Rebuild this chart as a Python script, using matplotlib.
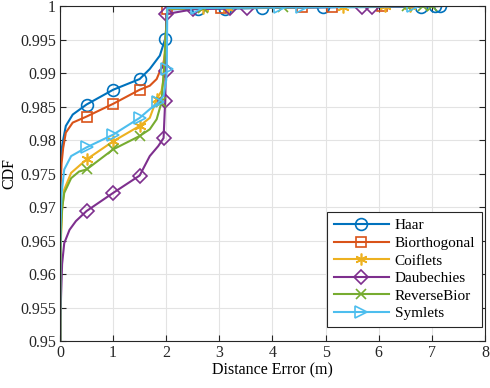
import matplotlib.pyplot as plt

plt.rcParams['font.family'] = ['Liberation Serif', 'DejaVu Serif']
plt.rcParams['font.size'] = 11.5

names = ['Haar', 'Biorthogonal', 'Coiflets', 'Daubechies', 'ReverseBior', 'Symlets']
colors = ['#0072BD', '#D95319', '#EDB120', '#7E2F8E', '#77AC30', '#4DBEEE']
markers = ['o', 's', (6, 2, 0), 'D', 'x', '>']

# distance error (m) and CDF
haar_x = [0, 0.005, 0.01, 0.03, 0.05, 0.11, 0.24, 0.5, 1.0, 1.5, 1.69, 1.88, 1.98, 2.01, 2.02, 2.6, 3.1, 3.8, 4.95, 6.8, 7.05, 7.15]
haar_y = [0.90, 0.971, 0.976, 0.9785, 0.9796, 0.9821, 0.9838, 0.9853, 0.9875, 0.9891, 0.9906, 0.9926, 0.9951, 0.9975, 0.9995, 0.9996, 0.9996, 0.9997, 0.9998, 0.9999, 1.0, 1.0]
haar_mk = [7, 8, 9, 12, 15, 16, 17, 18, 19, 20, 21]

bior_x = [0, 0.005, 0.01, 0.03, 0.06, 0.11, 0.24, 0.5, 1.0, 1.5, 1.69, 1.82, 1.95, 1.98, 2.02, 3.04, 4.55, 5.12, 6.06, 7.1]
bior_y = [0.90, 0.969, 0.973, 0.9765, 0.9788, 0.9811, 0.9826, 0.9835, 0.9854, 0.9875, 0.9881, 0.9891, 0.9916, 0.9930, 0.9996, 0.9997, 0.9998, 0.9999, 1.0, 1.0]
bior_mk = [7, 8, 9, 14, 15, 16, 17, 18]

coif_x = [0, 0.01, 0.02, 0.04, 0.08, 0.21, 0.5, 1.0, 1.5, 1.69, 1.82, 1.91, 1.95, 1.97, 2.02, 2.69, 3.16, 5.33, 6.12, 6.59, 7.1]
coif_y = [0.90, 0.962, 0.9656, 0.9695, 0.9726, 0.9751, 0.9771, 0.9798, 0.9821, 0.9833, 0.9861, 0.9873, 0.9890, 0.9930, 0.9996, 0.9997, 0.9997, 0.9999, 1.0, 1.0, 1.0]
coif_mk = [6, 7, 8, 10, 15, 16, 17, 18, 19]

daub_x = [0, 0.01, 0.02, 0.04, 0.08, 0.18, 0.3, 0.5, 1.0, 1.5, 1.69, 1.85, 1.95, 1.98, 1.99, 2.0, 2.5, 3.2, 3.52, 5.68, 5.87, 7.2]
daub_y = [0.90, 0.953, 0.9566, 0.9615, 0.9646, 0.9666, 0.9679, 0.9694, 0.9721, 0.9747, 0.9776, 0.9791, 0.9803, 0.9858, 0.9903, 0.9988, 0.9995, 0.9997, 0.9997, 0.9999, 0.9999, 1.0]
daub_mk = [7, 8, 9, 12, 13, 14, 15, 16, 17, 18, 19, 20]

rbio_x = [0, 0.01, 0.02, 0.04, 0.08, 0.21, 0.36, 0.5, 1.0, 1.5, 1.69, 1.82, 1.91, 1.97, 2.02, 2.7, 4.2, 6.53, 6.83, 7.0, 7.15]
rbio_y = [0.90, 0.963, 0.9666, 0.9698, 0.9721, 0.9743, 0.9753, 0.9756, 0.9786, 0.9806, 0.9816, 0.9831, 0.9856, 0.9920, 0.9996, 0.9997, 0.9998, 1.0, 1.0, 1.0, 1.0]
rbio_mk = [7, 8, 9, 12, 15, 16, 17, 18, 19]

syml_x = [0, 0.005, 0.01, 0.03, 0.08, 0.21, 0.5, 1.0, 1.5, 1.69, 1.85, 1.95, 2.0, 2.01, 2.02, 2.58, 4.14, 4.55, 6.65, 7.1]
syml_y = [0.90, 0.962, 0.967, 0.9720, 0.9756, 0.9776, 0.9789, 0.9808, 0.9833, 0.9846, 0.9856, 0.9866, 0.9890, 0.9906, 0.9997, 0.9997, 0.9998, 0.9998, 1.0, 1.0]
syml_mk = [6, 7, 8, 10, 13, 15, 16, 17, 18]

xs = [haar_x, bior_x, coif_x, daub_x, rbio_x, syml_x]
ys = [haar_y, bior_y, coif_y, daub_y, rbio_y, syml_y]
mks = [haar_mk, bior_mk, coif_mk, daub_mk, rbio_mk, syml_mk]
sizes = [8.5, 7.5, 8.5, 7.5, 7, 8.5]

fig = plt.figure(figsize=(4.9, 3.88), dpi=100)
ax = fig.add_axes([0.1224, 0.1211, 0.8674, 0.8634])

for i in range(6):
    ax.plot(xs[i], ys[i], color=colors[i], lw=1.5, marker=markers[i], markevery=mks[i],
            markersize=sizes[i], markerfacecolor='none', markeredgewidth=1.2, label=names[i])

ax.set_xlim(0, 8)
ax.set_ylim(0.95, 1.0)
ax.set_xticks(range(0, 9))
ax.set_yticks([0.95 + 0.005 * k for k in range(11)])
ax.set_yticklabels(['0.95', '0.955', '0.96', '0.965', '0.97', '0.975', '0.98', '0.985', '0.99', '0.995', '1'])
ax.grid(True, color='#e3e3e3', lw=0.8)
ax.set_axisbelow(True)
ax.tick_params(direction='in', top=True, right=True, length=4, colors='#262626', labelcolor='#262626', pad=3)
for s in ax.spines.values():
    s.set_color('#262626')
    s.set_linewidth(0.8)
ax.set_xlabel('Distance Error (m)', labelpad=1)
ax.set_ylabel('CDF', labelpad=2)

leg = ax.legend(loc='lower right', bbox_to_anchor=(0.993, 0.042), borderaxespad=0, fancybox=False,
                edgecolor='#262626', framealpha=1, handlelength=3.6, borderpad=0.45, labelspacing=0.25,
                handletextpad=0.4, fontsize=11)
leg.get_frame().set_linewidth(0.8)

plt.savefig('out.png', dpi=100)
